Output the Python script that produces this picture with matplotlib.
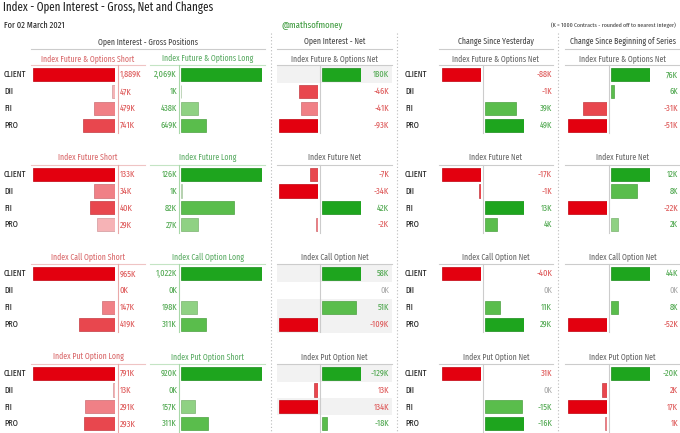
import os
import matplotlib
matplotlib.use("Agg")
import matplotlib.pyplot as plt
from matplotlib import font_manager
from matplotlib.font_manager import FontProperties
from matplotlib.colors import to_rgb
import numpy as np

# all values in K contracts
participants = ["CLIENT", "DII", "FII", "PRO"]
short_titles = ["Index Future & Options Short", "Index Future Short",
                "Index Call Option Short", "Index Put Option Long"]
long_titles = ["Index Future & Options Long", "Index Future Long",
               "Index Call Option Long", "Index Put Option Short"]
net_titles = ["Index Future & Options Net", "Index Future Net",
              "Index Call Option Net", "Index Put Option Net"]

gross_short = [[1889, 47, 479, 741], [133, 34, 40, 29], [965, 0, 147, 419], [791, 13, 291, 293]]
gross_long = [[2069, 1, 438, 649], [126, 1, 82, 27], [1022, 0, 198, 311], [920, 0, 157, 311]]
oi_net = [[180, -46, -41, -93], [-7, -34, 42, -2], [58, 0, 51, -109], [-129, 13, 134, -18]]
chg_yesterday = [[-88, -1, 39, 49], [-17, -1, 13, 4], [-40, 0, 11, 29], [31, 0, -15, -16]]
chg_series = [[76, 6, -31, -51], [12, 8, -22, 2], [44, 0, 8, -52], [-20, 2, 17, 1]]
# put long/short is bearish, so bars point the other way
flip_bars = [False, False, False, True]
net_shaded_rows = [[0], [], [0, 2, 3], [0, 2]]

W, H = 680, 433


# look for a condensed face, the original uses a narrow font
def pick_font():
    best, best_score = None, -1
    for f in font_manager.fontManager.ttflist:
        fn = os.path.basename(f.fname).lower().replace("-", "").replace("_", "")
        if f.style != "normal":
            continue
        if any(w in fn for w in ["bold", "light", "medium", "thin", "black", "italic", "oblique", "semib", "extrab"]):
            continue
        if "extracondensed" in fn:
            score = 3
        elif "semicondensed" in fn:
            score = 1
        elif "condensed" in fn or "narrow" in fn:
            score = 2
        else:
            continue
        if score > best_score:
            best, best_score = f, score
    return best


def variant(path, suffix):
    # NotoSans-ExtraCondensed.ttf -> NotoSans-ExtraCondensedBold.ttf
    root, ext = os.path.splitext(path)
    cand = root + suffix + ext
    return FontProperties(fname=cand) if os.path.exists(cand) else None


found = pick_font()
if found is not None:
    FP = FontProperties(fname=found.fname)
    FP_BOLD = variant(found.fname, "Bold") or FP
    FP_ITAL = variant(found.fname, "Italic") or FP
else:
    FP = FontProperties(family="Roboto")
    FP_BOLD = FontProperties(family="Roboto", weight="bold")
    FP_ITAL = FontProperties(family="Roboto", style="italic")

REDS = ["#e3000f", "#e8474e", "#f08086", "#f6b3b6"]
GREENS = ["#1ea51e", "#5abd4c", "#8fd183", "#c3e8bb"]
RED_TXT = "#dd5555"
GREEN_TXT = "#4ca64c"
GRAY_TXT = "#aaaaaa"

ROW0 = [74.6 + 99.5 * k for k in range(4)]
GAP = 16.9


def rank_colors(vals, palette=None):
    vals = np.asarray(vals, dtype=float)
    cols = []
    for v in vals:
        same = vals[np.sign(vals) == np.sign(v)]
        rank = int(np.sum(np.abs(same) > abs(v)))
        pal = palette or (GREENS if v >= 0 else REDS)
        cols.append(pal[min(rank, 3)])
    return cols


def darker(c, f=0.85):
    r, g, b = to_rgb(c)
    return (r * f, g * f, b * f)


def txt_color(v):
    if v > 0:
        return GREEN_TXT
    if v < 0:
        return RED_TXT
    return GRAY_TXT


fig = plt.figure(figsize=(W / 100, H / 100), dpi=100)
bg = fig.add_axes([0, 0, 1, 1], zorder=-1)
bg.set_xlim(0, W)
bg.set_ylim(H, 0)
bg.axis("off")


def T(x, y, s, fp=None, **kw):
    kw.setdefault("va", "center")
    return bg.text(x, y, s, fontproperties=fp or FP, **kw)


def add_panel(x0, x1, k, vals, xlim, colors):
    top = ROW0[k] - GAP / 2
    ax = fig.add_axes([x0 / W, 1 - (top + 4 * GAP) / H, (x1 - x0) / W, 4 * GAP / H])
    edges = [darker(c) if v != 0 else "none" for c, v in zip(colors, vals)]
    ax.barh(range(4), vals, height=0.77, color=colors, edgecolor=edges, linewidth=0.5)
    ax.set_xlim(xlim)
    ax.set_ylim(3.5, -0.5)
    ax.axis("off")
    return ax


def header(x0, x1, y, text, color, line_color, size=6.1):
    T((x0 + x1) / 2, y, text, ha="center", fontsize=size, color=color)
    bg.plot([x0, x1], [y + 7, y + 7], color=line_color, lw=0.8)


def vline(x, k, color):
    bg.plot([x, x], [ROW0[k] - 9.5, ROW0[k] + 3 * GAP + 8], color=color, lw=0.8)


def net_panel(axis_x, x0, x1, text_x, k, vals, shaded=()):
    header(x0, x1, ROW0[k] - 16.5, net_titles[k], "#666666", "#cccccc")
    for r in shaded:
        bg.add_patch(plt.Rectangle((x0, ROW0[k] + (r - 0.5) * GAP), x1 - x0, GAP,
                                   color="#f2f2f2", lw=0, zorder=0))
    bars = [-v if flip_bars[k] else v for v in vals]
    cols = rank_colors(bars)
    neg = [min(b, 0) for b in bars]
    pos = [max(b, 0) for b in bars]
    add_panel(axis_x - 41, axis_x - 2, k, neg, (min(min(neg), -1), 0), cols)
    add_panel(axis_x + 2, axis_x + 41, k, pos, (0, max(max(pos), 1)), cols)
    vline(axis_x, k, "#cccccc")
    for i, v in enumerate(vals):
        T(text_x, ROW0[k] + i * GAP, f"{v:,}K", ha="right", fontsize=6.5,
          color=txt_color(bars[i]))


# titles
T(3, 8, "Index - Open Interest - Gross, Net and Changes", fontsize=8.6, color="#222222")
T(4, 25, "For 02 March 2021", fontsize=6.5, color="#222222")
T(312, 25, "@mathsofmoney", fp=FP_BOLD, fontsize=6.8, color="#3d9a3d", ha="center")
T(676, 25, "(K = 1000 Contracts - rounded off to nearest integer)", fp=FP_ITAL,
  fontsize=4.5, color="#333333", ha="right")

header(31, 265, 42, "Open Interest - Gross Positions", "#444444", "#cccccc")
header(277, 392, 42, "Open Interest - Net", "#444444", "#cccccc")
header(439, 553, 42, "Change Since Yesterday", "#444444", "#cccccc")
header(565, 680, 42, "Change Since Beginning of Series", "#444444", "#cccccc")

for x in [271, 397, 558]:
    bg.plot([x, x], [33, H], color="#bbbbbb", lw=0.8, ls=(0, (1, 2)))

for k in range(4):
    for i, p in enumerate(participants):
        T(4, ROW0[k] + i * GAP, p, fontsize=6.5, color="#222222")
        T(405, ROW0[k] + i * GAP, p, fontsize=6.5, color="#222222")

    # gross short
    header(31, 145, ROW0[k] - 16.5, short_titles[k], "#d9686a", "#efc4c4")
    s = gross_short[k]
    add_panel(33, 114.5, k, s, (max(s), 0), rank_colors(s, REDS))
    vline(117.5, k, "#eaa8a8")
    for i, v in enumerate(s):
        T(119.5, ROW0[k] + i * GAP, f"{v:,}K", ha="left", fontsize=6.5, color=RED_TXT)

    # gross long
    header(150, 265, ROW0[k] - 16.5, long_titles[k], "#5aab63", "#c4e4c4")
    g = gross_long[k]
    add_panel(181, 262, k, g, (0, max(g)), rank_colors(g, GREENS))
    vline(179, k, "#a8d8a8")
    for i, v in enumerate(g):
        T(177, ROW0[k] + i * GAP, f"{v:,}K", ha="right", fontsize=6.5, color=GREEN_TXT)

    net_panel(320, 277, 392, 389, k, oi_net[k], net_shaded_rows[k])
    net_panel(483, 439, 553, 552, k, chg_yesterday[k])
    net_panel(609, 565, 680, 678, k, chg_series[k])

fig.savefig("out.png", dpi=100)
